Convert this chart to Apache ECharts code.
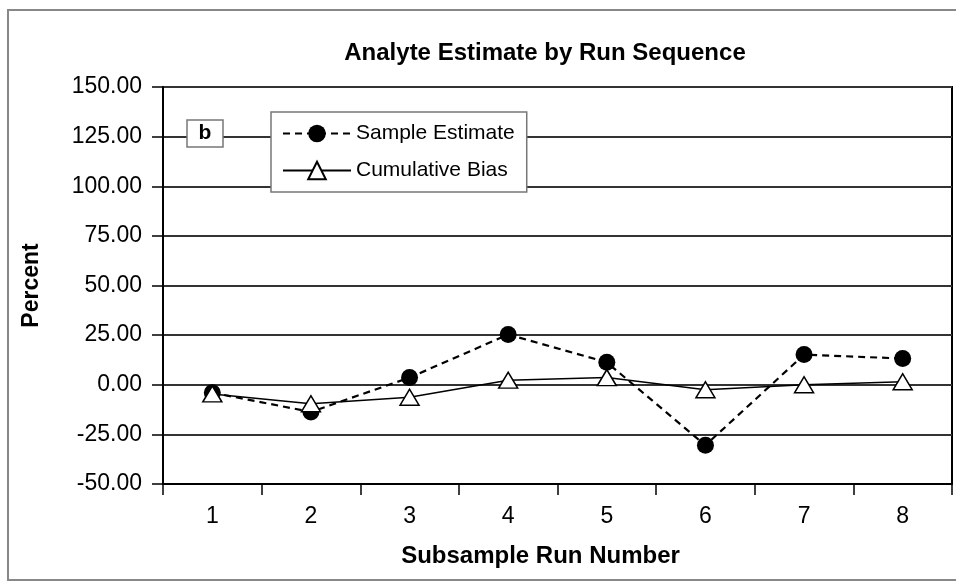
<!DOCTYPE html>
<html>
<head>
<meta charset="utf-8">
<script src="https://cdn.jsdelivr.net/npm/echarts@6/dist/echarts.min.js"></script>
<style>
html,body{margin:0;padding:0;background:#fff;}
#chart{width:956px;height:582px;}
</style>
</head>
<body>
<div id="chart"></div>
<script>
const categories = ['1','2','3','4','5','6','7','8'];
const sampleEstimate = [-4.0, -13.7, 3.6, 25.3, 11.3, -30.5, 15.2, 13.2];
const cumulativeBias = [-4.6, -9.6, -6.3, 2.3, 3.6, -2.5, 0.0, 1.5];
const yTicks = { min: -50, max: 150, interval: 25 };

const FONT = 'Liberation Sans, Arial, sans-serif';
const chart = echarts.init(document.getElementById('chart'), null, {renderer: 'canvas'});
chart.setOption({
  backgroundColor: '#fff',
  animation: false,
  title: {
    text: 'Analyte Estimate by Run Sequence',
    left: 540, top: 36, textAlign: 'center',
    textStyle: {fontFamily: FONT, fontWeight: 'bold', fontSize: 24, color: '#000'}
  },
  legend: {
    orient: 'vertical',
    left: 271, top: 112,
    padding: [11, 12, 11, 11],
    itemWidth: 68, itemHeight: 22, itemGap: 16,
    backgroundColor: '#fff', borderColor: '#777', borderWidth: 1.5,
    textStyle: {fontFamily: FONT, fontSize: 21, color: '#000'},
    data: ['Sample Estimate', 'Cumulative Bias']
  },
  grid: {
    left: 163, right: 4, top: 87, bottom: 98,
    show: true, borderColor: '#000', borderWidth: 2, backgroundColor: 'transparent'
  },
  xAxis: {
    type: 'category',
    data: categories,
    boundaryGap: true,
    name: 'Subsample Run Number',
    nameLocation: 'middle', nameGap: 60,
    nameTextStyle: {fontFamily: FONT, fontWeight: 'bold', fontSize: 24, color: '#000', padding: [0, 34, 0, 0]},
    axisLine: {onZero: false, lineStyle: {color: '#000', width: 2}},
    axisTick: {show: true, length: 11, alignWithLabel: false, lineStyle: {color: '#000', width: 1.5}},
    axisLabel: {fontFamily: FONT, fontSize: 23, color: '#000', margin: 21},
    splitLine: {show: false}
  },
  yAxis: {
    type: 'value',
    min: yTicks.min, max: yTicks.max, interval: yTicks.interval,
    name: 'Percent',
    nameLocation: 'middle', nameGap: 120, nameRotate: 90,
    nameTextStyle: {fontFamily: FONT, fontWeight: 'bold', fontSize: 23, color: '#000'},
    axisLine: {show: true, lineStyle: {color: '#000', width: 2}},
    axisTick: {show: true, length: 11, lineStyle: {color: '#000', width: 1.5}},
    axisLabel: {fontFamily: FONT, fontSize: 23, color: '#000', margin: 21,
      formatter: v => v.toFixed(2)},
    splitLine: {show: true, lineStyle: {color: '#333', width: 2}}
  },
  graphic: [
    {type: 'rect', silent: true, z: -10,
     shape: {x: 8, y: 10, width: 1100, height: 570},
     style: {fill: 'transparent', stroke: '#888', lineWidth: 2}},
    {type: 'rect', z: 100,
     shape: {x: 187, y: 120, width: 36, height: 27},
     style: {fill: '#fff', stroke: '#777', lineWidth: 1.5}},
    {type: 'text', z: 101,
     x: 205, y: 133.5,
     style: {text: 'b', fontFamily: FONT, fontWeight: 'bold', fontSize: 21, fill: '#000',
             align: 'center', verticalAlign: 'middle'}}
  ],
  series: [
    {
      name: 'Sample Estimate',
      type: 'line',
      data: sampleEstimate,
      symbol: 'circle', symbolSize: 17,
      itemStyle: {color: '#000'},
      lineStyle: {color: '#000', width: 2.2, type: [7, 5]},
      z: 3
    },
    {
      name: 'Cumulative Bias',
      type: 'line',
      data: cumulativeBias,
      symbol: 'triangle', symbolSize: [19, 16],
      itemStyle: {color: '#fff', borderColor: '#000', borderWidth: 1.5},
      lineStyle: {color: '#000', width: 1.5, type: 'solid'},
      z: 4
    }
  ]
});
</script>
</body>
</html>
